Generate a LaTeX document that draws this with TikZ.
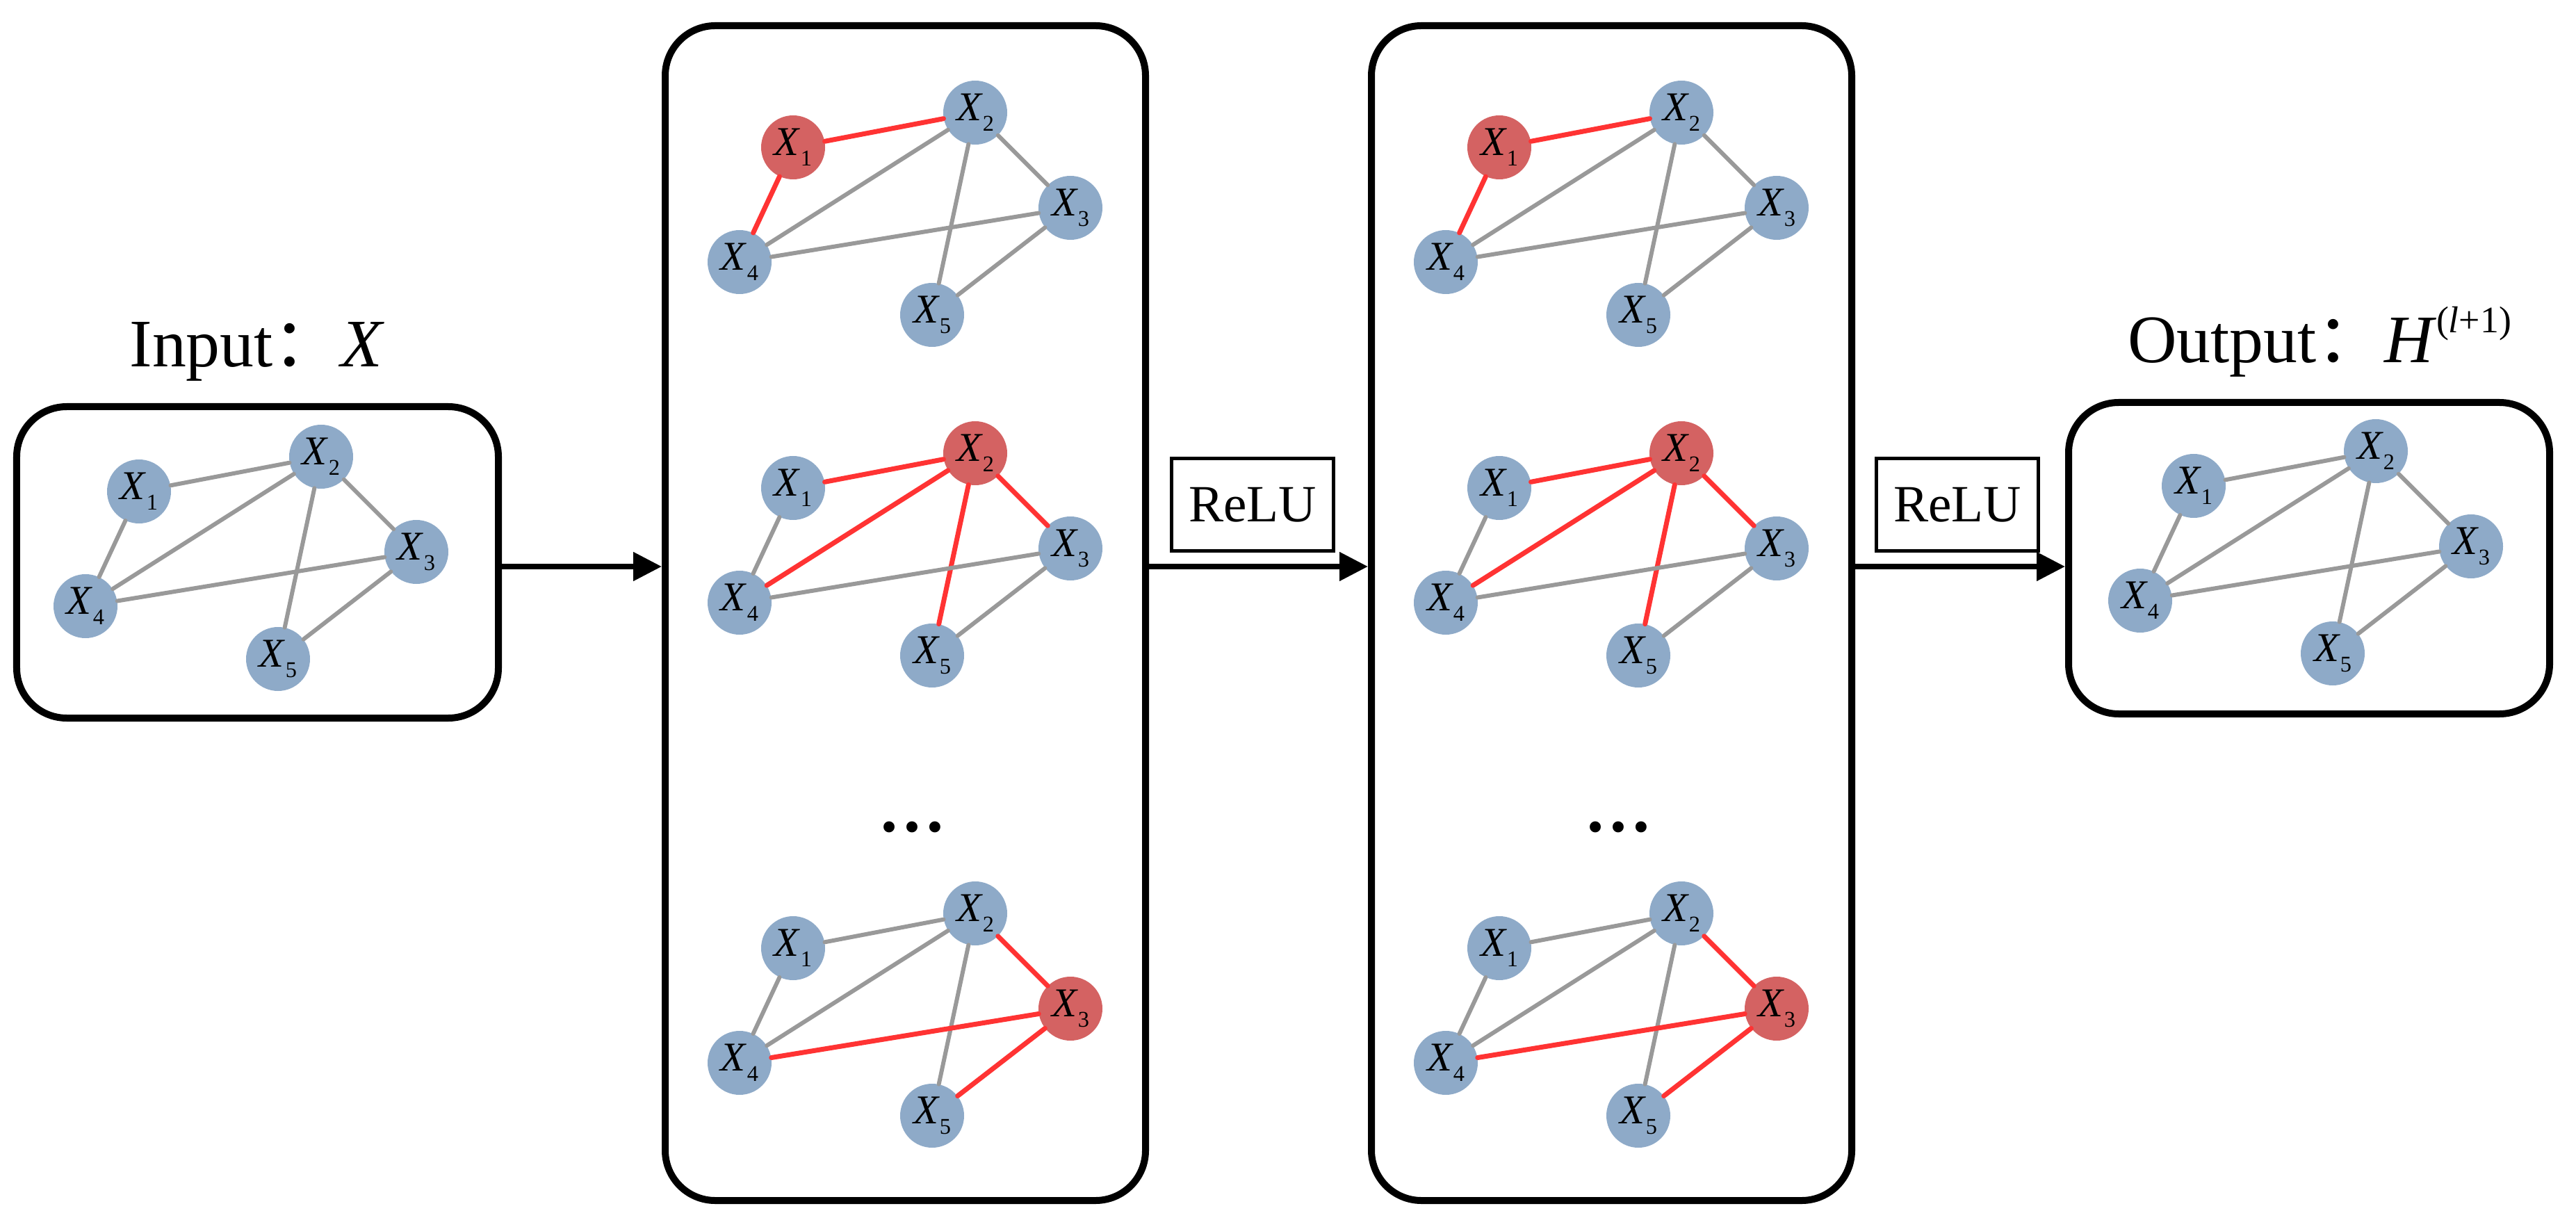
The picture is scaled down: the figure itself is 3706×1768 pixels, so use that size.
\documentclass[tikz,border=0pt]{standalone}
\usepackage{fontspec}
\setmainfont{Liberation Serif}
\newfontfamily\cjk{Noto Sans CJK SC}
\usetikzlibrary{arrows.meta}
\definecolor{nodeblue}{RGB}{142,170,200}
\definecolor{hotred}{RGB}{212,98,98}
\definecolor{linered}{RGB}{255,51,51}
\definecolor{linegray}{RGB}{153,153,153}
\tikzset{
  panel/.style={draw,line width=2mm,rounded corners=14.4mm},
  gnode/.style={circle,minimum size=18.4mm,inner sep=0pt,fill=nodeblue,font=\fontsize{33.5}{36}\selectfont},
  hotnode/.style={gnode,fill=hotred},
  gline/.style={linegray,line width=1.2mm,line cap=round},
  hotline/.style={linered,line width=1.4mm,line cap=round},
  flow/.style={line width=1.6mm,-{Triangle[length=8.2mm,width=8mm]}},
  relu/.style={draw,line width=1mm,minimum width=46.6mm,minimum height=26.6mm,font=\fontsize{42.8}{44}\selectfont},
  title/.style={font=\fontsize{55.6}{60}\selectfont,inner sep=0pt,anchor=base},
}
\newcommand\xsub[1]{\textit{X}\raisebox{-.25em}{\fontsize{18.4}{20}\selectfont#1}}
\begin{document}
\begin{tikzpicture}[x=.2mm,y=-.2mm]
  \useasboundingbox (0,0) rectangle (3706,1768);
  \node[panel,minimum width=138.6mm,minimum height=89.6mm] (input) at (370.5,809) {};
  \node[panel,minimum width=138.2mm,minimum height=338mm] (mid1) at (1302.5,882) {};
  \node[panel,minimum width=138.2mm,minimum height=338mm] (mid2) at (2318.5,882) {};
  \node[panel,minimum width=138.4mm,minimum height=89.6mm] (output) at (3322,803) {};
  \node[title] (intitle) at (370,528) {Input{\cjk ：}\textit{X}};
  \node[title] (outtitle) at (3337,522) {Output{\cjk ：}\textit{H}\raisebox{.45em}{\fontsize{30.6}{32}\selectfont(\textit{l}+1)}};
  \node[relu] (relu1) at (1802,726) {ReLU};
  \node[relu] (relu2) at (2816,726) {ReLU};
  \foreach \n/\dx in {dots1/1312, dots2/2328} \node[title] (\n) at (\dx,1196) {\bfseries …};
  \coordinate (axis) at (0,815);
  \draw[flow] (input.east |- axis) -- (mid1.west |- axis);
  \draw[flow] (mid1.east |- axis) -- (mid2.west |- axis);
  \draw[flow] (mid2.east |- axis) -- (output.west |- axis);
  \foreach \g/\gx/\gy/\hl in {%
    a/200/707/0, b/1141/212/1, c/1141/702/2, d/1141/1364/3,
    e/2157/212/1, f/2157/702/2, g/2157/1364/3, h/3156/699/0
  }{
    \begin{scope}[shift={(\gx,\gy)}]
      \foreach \i/\x/\y in {1/0/0, 2/262/-50, 3/399/87, 4/-77/165, 5/200/241}{
        \ifnum\i=\hl \node[hotnode] (\g\i) at (\x,\y) {\xsub{\i}};
        \else \node[gnode] (\g\i) at (\x,\y) {\xsub{\i}};\fi
      }
      \foreach \a/\b in {1/2,1/4,2/3,2/4,2/5,3/4,3/5}{
        \pgfmathtruncatemacro\hot{(\a==\hl)||(\b==\hl)}
        \ifnum\hot=1 \draw[hotline] (\g\a) -- (\g\b);
        \else \draw[gline] (\g\a) -- (\g\b);\fi
      }
    \end{scope}
  }
\end{tikzpicture}
\end{document}
